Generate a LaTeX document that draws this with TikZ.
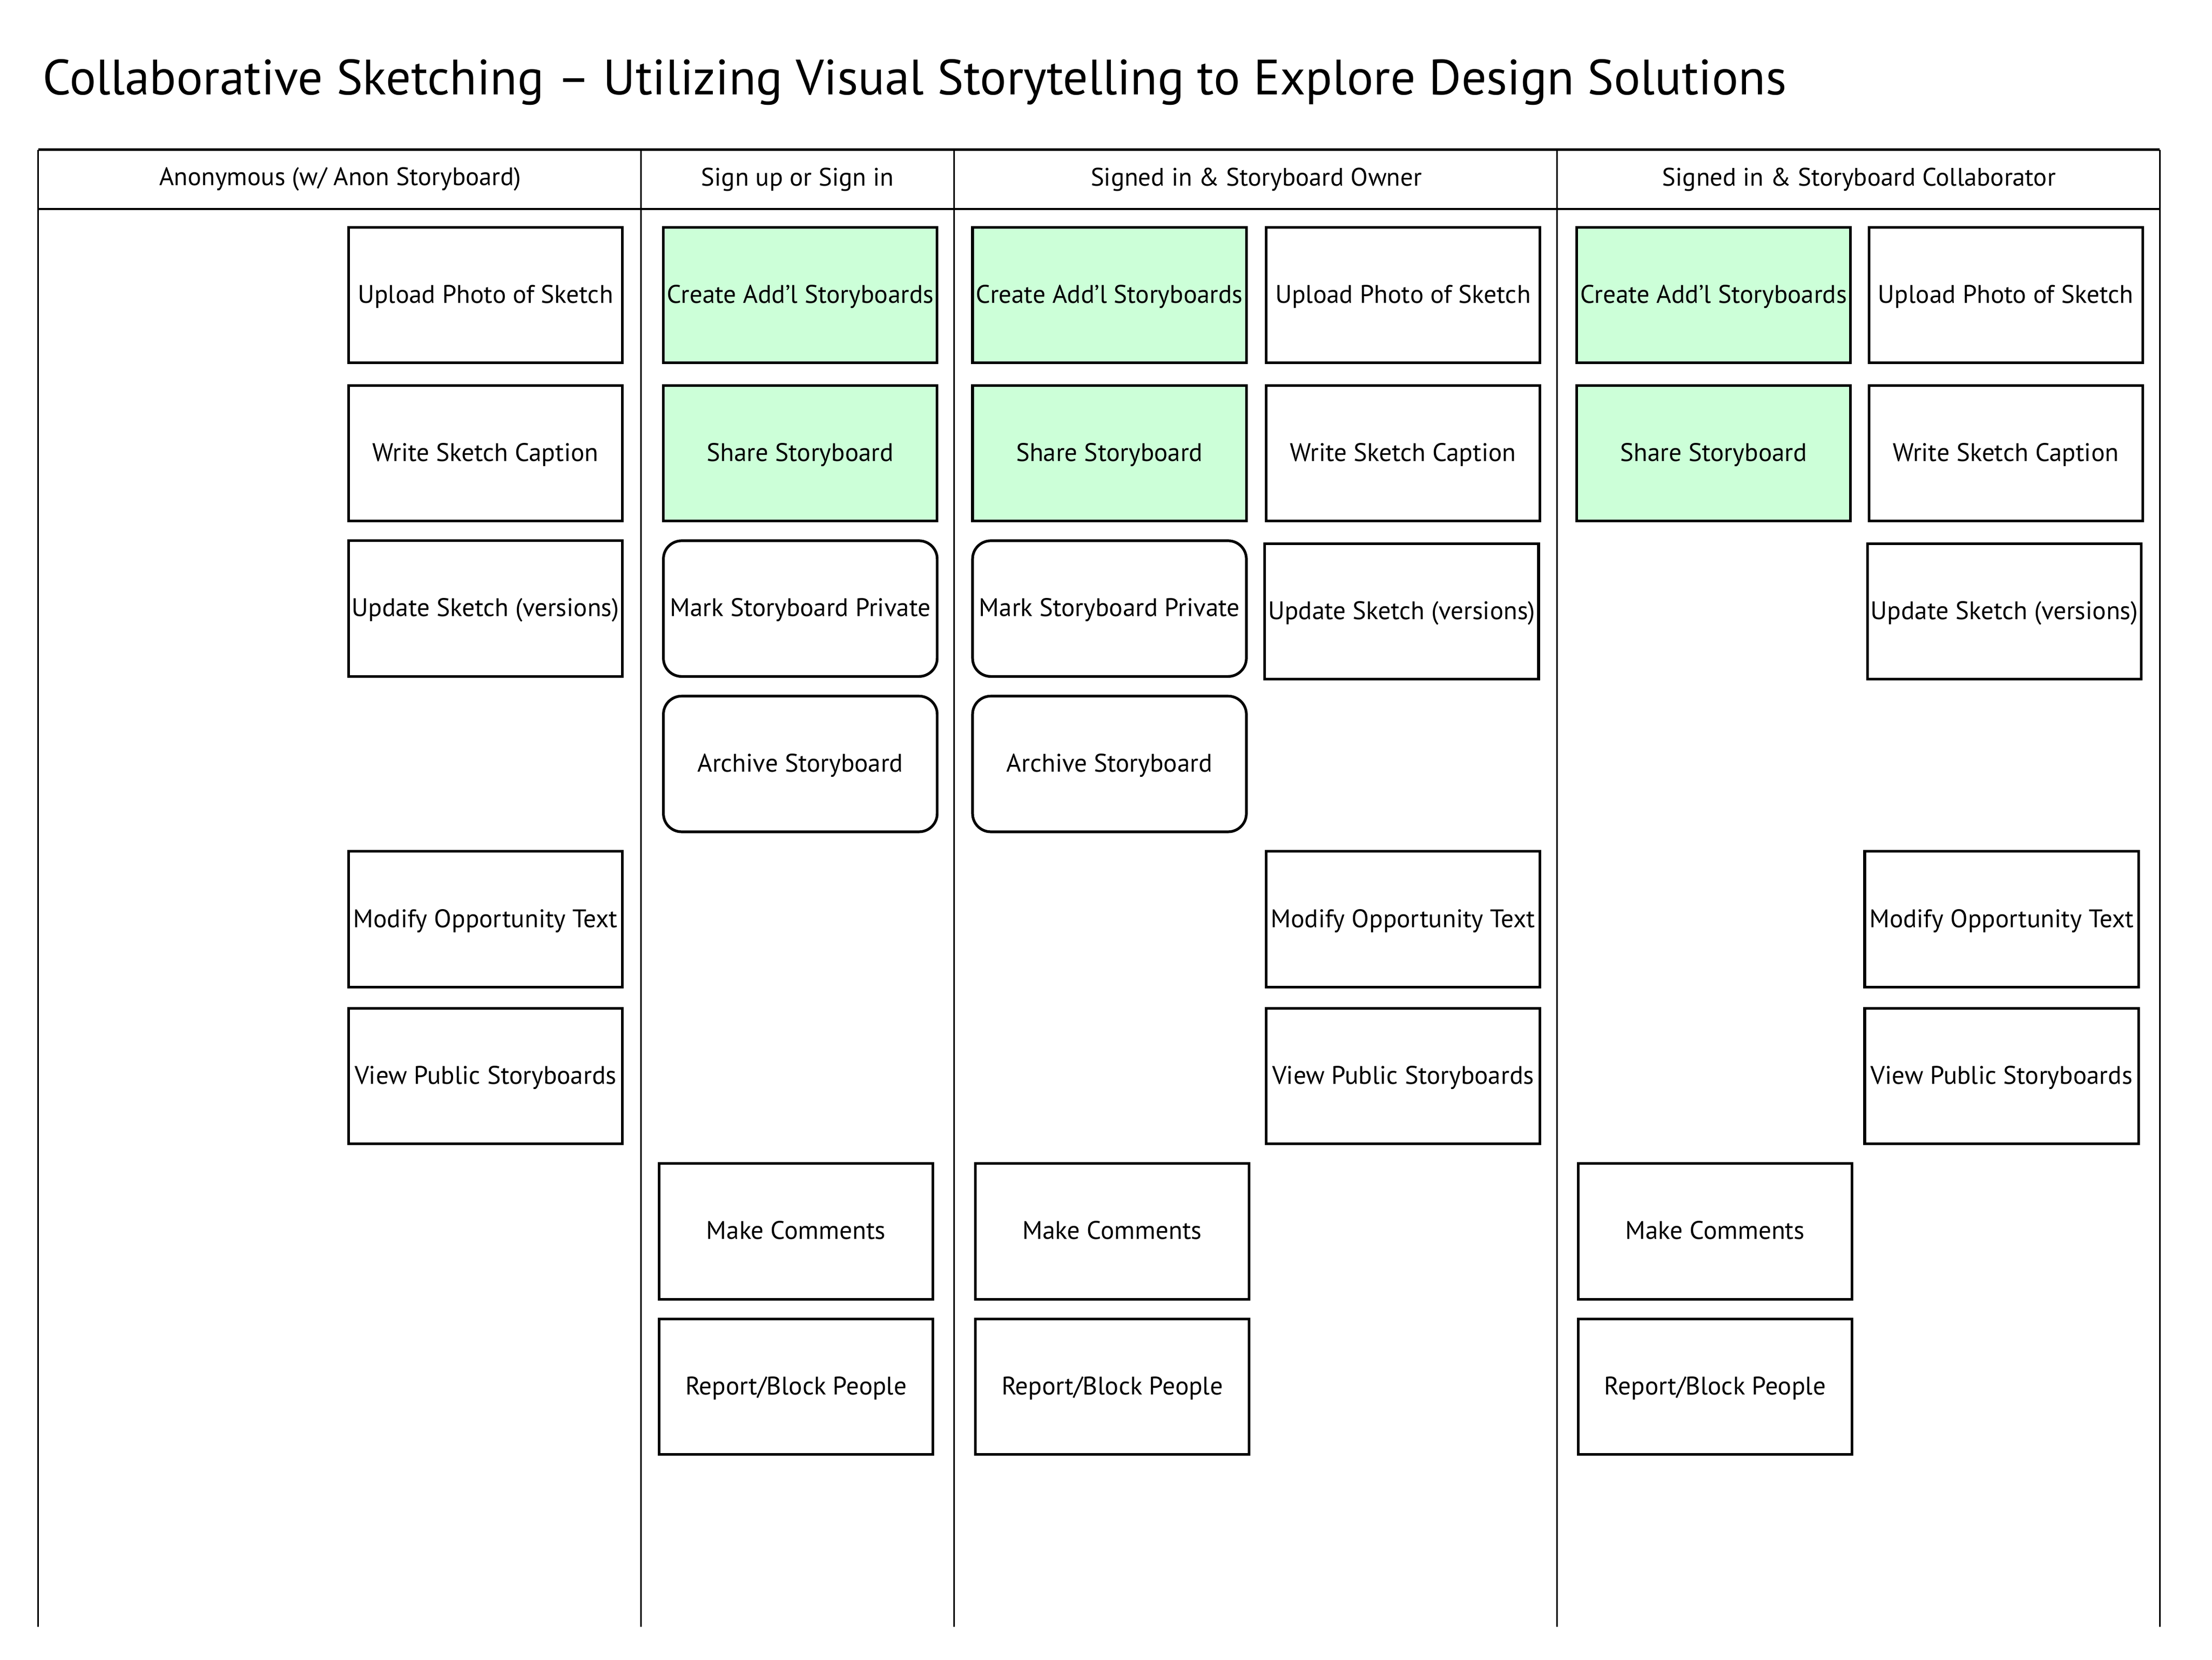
\documentclass[tikz,border=0pt]{standalone}
\usepackage{fontspec}
\setmainfont{PT Sans}
\definecolor{mint}{RGB}{204,255,216}
\begin{document}
\begin{tikzpicture}[x=0.4965pt,y=-0.4965pt,
  box/.style={draw=black, line width=0.95pt, minimum width=96.3pt, minimum height=47.7pt, inner sep=0pt, anchor=north west, text height=7.6pt, text depth=2pt, font=\fontsize{8.95}{10}\selectfont},
  gbox/.style={box, fill=mint},
  rbox/.style={box, rounded corners=6.4pt},
  head/.style={font=\fontsize{8.9}{10}\selectfont, inner sep=0pt},
  grid/.style={line width=0.6pt},
  hline/.style={line width=0.9pt}]
\useasboundingbox (0,0) rectangle (1567,1175.2);
% title
\node[anchor=base west, inner sep=0pt, font=\fontsize{17.45}{20}\selectfont] (title) at (30,67) {Collaborative Sketching – Utilizing Visual Storytelling to Explore Design Solutions};
% table frame
\draw[hline] (27,106) -- (1530,106);
\draw[hline] (27,148) -- (1530,148);
\foreach \x in {27,454,676,1103,1530} \draw[grid] (\x,106) -- (\x,1152);
% headers
\node[head] (h1) at (241,127) {Anonymous (w/ Anon Storyboard)};
\node[head] (h2) at (565,127) {Sign up or Sign in};
\node[head] (h3) at (890,127) {Signed in \& Storyboard Owner};
\node[head] (h4) at (1317,127) {Signed in \& Storyboard Collaborator};
% column A
\node[box] (a1) at (246,160) {Upload Photo of Sketch};
\node[box] (a2) at (246,272) {Write Sketch Caption};
\node[box] (a3) at (246,382) {Update Sketch (versions)};
\node[box] (a4) at (246,602) {Modify Opportunity Text};
\node[box] (a5) at (246,713) {View Public Storyboards};
% column B
\node[gbox] (b1) at (469,160) {Create Add’l Storyboards};
\node[gbox] (b2) at (469,272) {Share Storyboard};
\node[rbox] (b3) at (469,382) {Mark Storyboard Private};
\node[rbox] (b4) at (469,492) {Archive Storyboard};
\node[box] (b5) at (466,823) {Make Comments};
\node[box] (b6) at (466,933) {Report/Block People};
% column C
\node[gbox] (c1) at (688,160) {Create Add’l Storyboards};
\node[gbox] (c2) at (688,272) {Share Storyboard};
\node[rbox] (c3) at (688,382) {Mark Storyboard Private};
\node[rbox] (c4) at (688,492) {Archive Storyboard};
\node[box] (c5) at (690,823) {Make Comments};
\node[box] (c6) at (690,933) {Report/Block People};
\node[box] (c7) at (896,160) {Upload Photo of Sketch};
\node[box] (c8) at (896,272) {Write Sketch Caption};
\node[box] (c9) at (895,384) {Update Sketch (versions)};
\node[box] (c10) at (896,602) {Modify Opportunity Text};
\node[box] (c11) at (896,713) {View Public Storyboards};
% column D
\node[gbox] (d1) at (1116,160) {Create Add’l Storyboards};
\node[gbox] (d2) at (1116,272) {Share Storyboard};
\node[box] (d5) at (1117,823) {Make Comments};
\node[box] (d6) at (1117,933) {Report/Block People};
\node[box] (d7) at (1323,160) {Upload Photo of Sketch};
\node[box] (d8) at (1323,272) {Write Sketch Caption};
\node[box] (d9) at (1322,384) {Update Sketch (versions)};
\node[box] (d10) at (1320,602) {Modify Opportunity Text};
\node[box] (d11) at (1320,713) {View Public Storyboards};
\end{tikzpicture}
\end{document}
